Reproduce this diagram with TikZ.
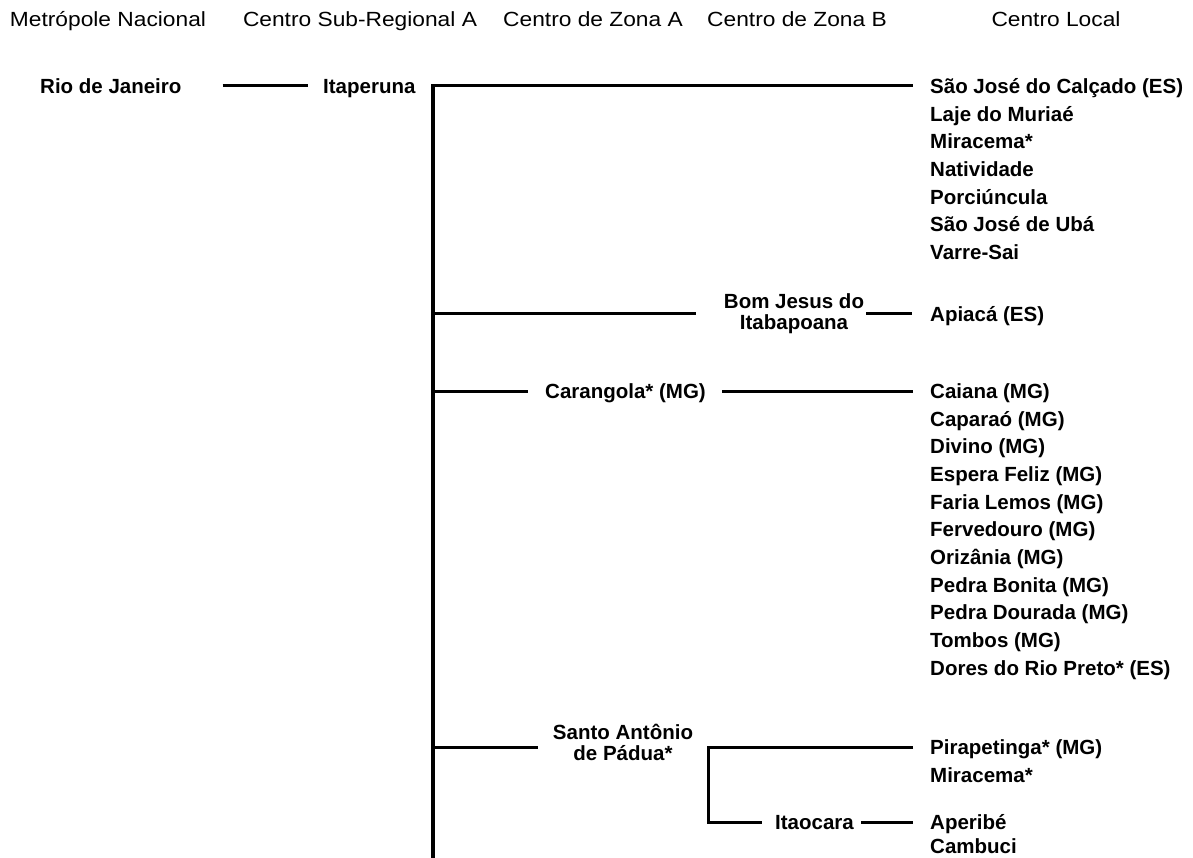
\documentclass[tikz,border=0pt]{standalone}
\usepackage{fontspec}
\setmainfont{Liberation Sans}
\usetikzlibrary{calc}

\begin{document}
\begin{tikzpicture}[x=1pt, y=-1pt,
  hdr/.style={font=\fontsize{20.5}{24}\selectfont, xscale=1.11, inner sep=0pt, text height=14.7pt, text depth=0pt},
  place/.style={font=\bfseries\fontsize{20.5}{24}\selectfont, anchor=west, inner sep=0pt, text height=14.7pt, text depth=0pt},
  pair/.style={font=\bfseries\fontsize{20.5}{21}\selectfont, align=center, inner sep=0pt},
  link/.style={line width=3pt},
  trunk/.style={line width=4pt}]

\useasboundingbox (0,0) rectangle (1193,858);
%\draw[step=50, gray!40] (0,0) grid (1193,858);

% column heads
\node[hdr] (metro) at (108,19) {Metrópole Nacional};
\node[hdr] (subreg) at (360,19) {Centro Sub-Regional A};
\node[hdr] (zonaa) at (593,19) {Centro de Zona A};
\node[hdr] (zonab) at (797,19) {Centro de Zona B};
\node[hdr] (local) at (1056,19) {Centro Local};

\node[place] (rio) at (40,86) {Rio de Janeiro};
\node[place] (itaperuna) at (323,86) {Itaperuna};

\coordinate (jt) at (433,86);
\coordinate (jb) at (433,314);
\coordinate (jc) at (433,391);
\coordinate (js) at (433,747);
\coordinate (tbot) at (433,858);
\coordinate (split) at (708,747);

\node[pair] (bomjesus) at (794,314) {Bom Jesus do\\Itabapoana};
\node[place] (apiaca) at (930,314) {Apiacá (ES)};
\node[place] (carangola) at (545,391) {Carangola* (MG)};
\node[pair] (santo) at (623,742) {Santo Antônio\\de Pádua*};
\node[place] (itaocara) at (775,822) {Itaocara};

\foreach \t [count=\i from 0] in {São José do Calçado (ES), Laje do Muriaé, Miracema*,
  Natividade, Porciúncula, São José de Ubá, Varre-Sai}
  \node[place] (la\i) at (930,{86+27.7*\i}) {\t};

\foreach \t [count=\i from 0] in {Caiana (MG), Caparaó (MG), Divino (MG), Espera Feliz (MG),
  Faria Lemos (MG), Fervedouro (MG), Orizânia (MG), Pedra Bonita (MG), Pedra Dourada (MG),
  Tombos (MG), Dores do Rio Preto* (ES)}
  \node[place] (lc\i) at (930,{391+27.7*\i}) {\t};

\foreach \t [count=\i from 0] in {Pirapetinga* (MG), Miracema*}
  \node[place] (ls\i) at (930,{747+27.7*\i}) {\t};

\foreach \t [count=\i from 0] in {Aperibé, Cambuci}
  \node[place] (li\i) at (930,{822+24*\i}) {\t};

\draw[link, shorten <=41pt, shorten >=15pt] (rio.east) -- (itaperuna.west);
\draw[trunk] ([yshift=1.5pt]jt) -- (tbot);
\draw[link, shorten >=17pt] (jt) -- (la0.west);

\draw[link, shorten >=28pt] (jb) -- (bomjesus.west |- jb);
\draw[link, shorten <=2pt, shorten >=18pt] (bomjesus.east |- apiaca) -- (apiaca.west);

\draw[link, shorten >=17pt] (jc) -- (carangola.west);
\draw[link, shorten <=16pt, shorten >=17pt] (carangola.east) -- (lc0.west);

\draw[link, shorten >=15pt] (js) -- (js -| santo.west);
\draw[link, shorten <=17pt, shorten >=13pt] (ls0.west) -- (split) |- (itaocara.west);
\draw[link, shorten <=7pt, shorten >=17pt] (itaocara.east) -- (li0.west);

\end{tikzpicture}
\end{document}
